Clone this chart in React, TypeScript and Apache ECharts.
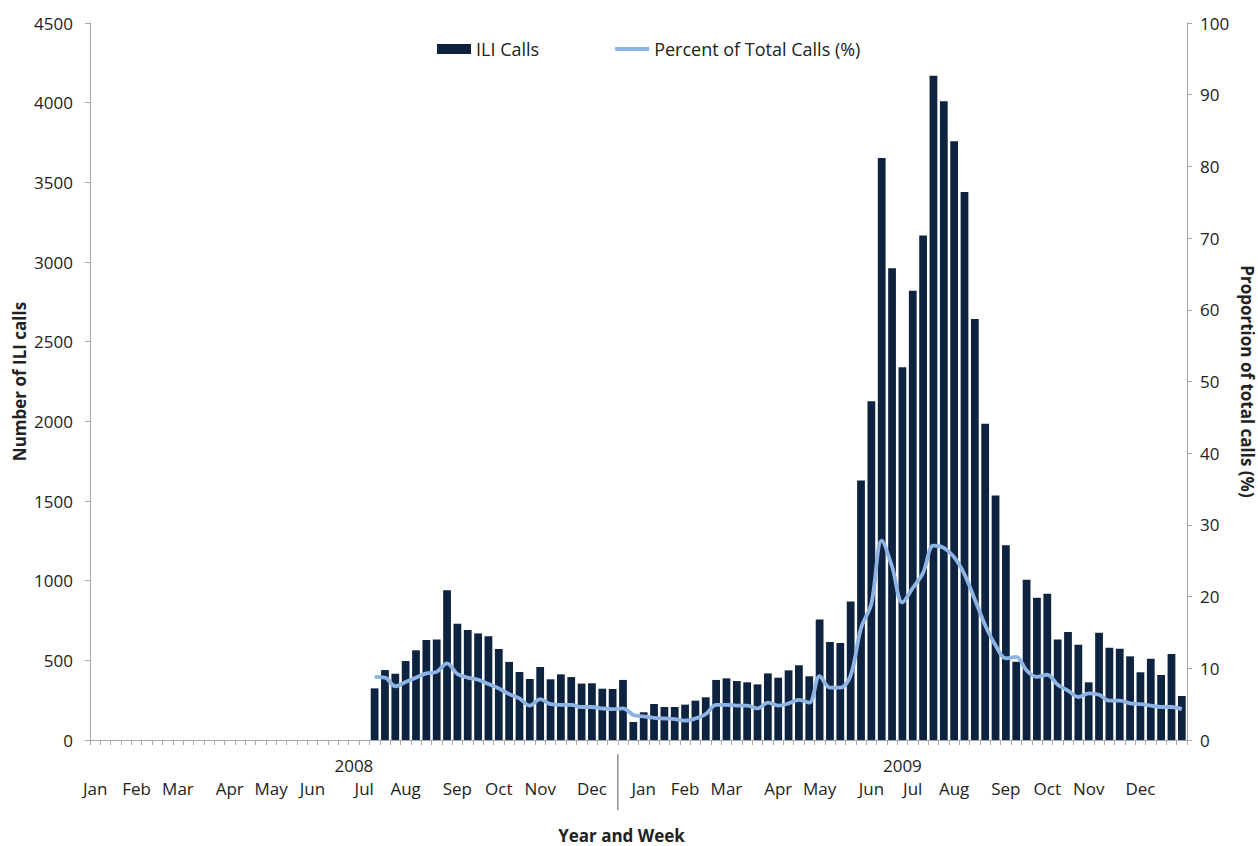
import React, { useEffect, useRef } from 'react';
import * as echarts from 'echarts';

// ---- Data ----
const years = ['2008', '2009'];
const weeksPerYear = [51, 55];
const monthNames = ['Jan', 'Feb', 'Mar', 'Apr', 'May', 'Jun', 'Jul', 'Aug', 'Sep', 'Oct', 'Nov', 'Dec'];
// week (within each year's group) on which each month label sits
const monthStartWeek2008 = [1, 5, 9, 14, 18, 22, 27, 31, 36, 40, 44, 49];
const monthStartWeek2009 = [3, 7, 11, 16, 20, 25, 29, 33, 38, 42, 46, 51];

const firstReportedWeek2008 = 28;
const iliCalls2008 = [324, 439, 416, 496, 563, 628, 630, 940, 730, 690, 669, 651, 571, 490, 427, 383, 458, 381, 412, 395, 354, 356, 322, 320];
const percent2008 = [8.8, 8.7, 7.5, 8.1, 8.7, 9.3, 9.5, 10.7, 9.2, 8.7, 8.4, 7.8, 7.2, 6.4, 5.8, 4.8, 5.7, 5.0, 4.9, 4.9, 4.6, 4.6, 4.4, 4.3];

const iliCalls2009 = [377, 113, 174, 226, 207, 207, 222, 247, 268, 377, 387, 370, 362, 349, 418, 391, 437, 469, 400, 757, 615, 609, 870, 1629, 2126, 3653, 2960, 2339, 2819, 3167, 4169, 4009, 3758, 3440, 2642, 1985, 1535, 1223, 491, 1006, 893, 918, 630, 678, 598, 362, 673, 579, 573, 525, 425, 510, 408, 540, 276];
const percent2009 = [4.4, 3.5, 3.3, 3.1, 3.0, 2.9, 2.7, 3.0, 3.6, 4.9, 4.9, 4.8, 4.8, 4.4, 5.2, 4.8, 5.1, 5.6, 5.2, 8.9, 7.3, 7.3, 9.0, 15.6, 19.0, 27.8, 24.2, 19.2, 21.2, 23.3, 27.1, 26.8, 25.5, 23.1, 19.6, 16.0, 13.2, 11.4, 11.6, 9.7, 8.8, 9.1, 7.7, 6.9, 6.0, 6.5, 6.3, 5.5, 5.5, 5.1, 5.0, 4.8, 4.6, 4.6, 4.3];

const leftTicks = { min: 0, max: 4500, interval: 500 };
const rightTicks = { min: 0, max: 100, interval: 10 };

// ---- Derived tables ----
const categories: string[] = [];
years.forEach((y, yi) => {
  for (let w = 1; w <= weeksPerYear[yi]; w++) categories.push(`${y}-W${w}`);
});
const monthLabel: Record<number, string> = {};
monthStartWeek2008.forEach((w, i) => { monthLabel[w - 1] = monthNames[i]; });
monthStartWeek2009.forEach((w, i) => { monthLabel[weeksPerYear[0] + w - 1] = monthNames[i]; });
const yearLabel: Record<number, string> = {};
let offset = 0;
years.forEach((y, yi) => {
  yearLabel[offset + Math.floor((weeksPerYear[yi] - 1) / 2)] = y;
  offset += weeksPerYear[yi];
});

const lead = new Array(firstReportedWeek2008 - 1).fill(null);
const iliCalls = [...lead, ...iliCalls2008, ...iliCalls2009];
const percent = [...lead, ...percent2008, ...percent2009];

const FONT = '"Open Sans", Lato, sans-serif';
const TXT = '#222222';
const AX = '#a6a6a6';
const LINE = '#8eb4e3';

export default function App() {
  const ref = useRef<HTMLDivElement>(null);
  useEffect(() => {
    const chart = echarts.init(ref.current!, null, { renderer: 'svg' });
    const option: any = {
      animation: false,
      textStyle: { fontFamily: FONT, color: TXT },
      grid: { left: 90, right: 71, top: 23, bottom: 106, outerBoundsMode: 'none', containLabel: false },
      legend: {
        top: 40,
        left: 437,
        padding: 0,
        itemWidth: 34,
        itemHeight: 10,
        itemGap: 74,
        textStyle: { fontSize: 18, fontFamily: FONT, color: TXT },
        data: [
          { name: 'ILI Calls', icon: 'rect' },
          { name: 'Percent of Total Calls (%)', itemStyle: { opacity: 0 }, lineStyle: { width: 4, color: LINE } },
        ],
      },
      xAxis: [
        {
          type: 'category',
          data: categories,
          position: 'bottom',
          axisLine: { show: true, lineStyle: { color: AX, width: 1 } },
          axisTick: { show: true, interval: 0, length: 5, lineStyle: { color: AX } },
          axisLabel: {
            interval: 0,
            margin: 40,
            fontSize: 17,
            fontFamily: FONT,
            color: TXT,
            formatter: (_v: string, i: number) => monthLabel[i] || '',
          },
          name: 'Year and Week',
          nameLocation: 'middle',
          nameGap: 86,
          nameMoveOverlap: false,
          nameTextStyle: { fontSize: 17, lineHeight: 18, fontWeight: 'bold', fontFamily: FONT, color: TXT, padding: [0, 34, 0, 0] },
        },
        {
          type: 'category',
          data: categories,
          position: 'bottom',
          axisLine: { show: false },
          axisTick: { show: false },
          axisLabel: {
            interval: 0,
            margin: 17,
            fontSize: 17,
            fontFamily: FONT,
            color: TXT,
            formatter: (_v: string, i: number) => yearLabel[i] || '',
          },
        },
      ],
      yAxis: [
        {
          type: 'value',
          position: 'left',
          ...leftTicks,
          axisLine: { show: true, lineStyle: { color: AX } },
          axisTick: { show: true, length: 5, lineStyle: { color: AX } },
          splitLine: { show: false },
          axisLabel: { fontSize: 17, margin: 17, fontFamily: FONT, color: TXT, formatter: (v: number) => String(v) },
          name: 'Number of ILI calls',
          nameLocation: 'middle',
          nameRotate: 90,
          nameGap: 62,
          nameMoveOverlap: false,
          nameTextStyle: { fontSize: 17, lineHeight: 18, fontWeight: 'bold', fontFamily: FONT, color: TXT },
        },
        {
          type: 'value',
          position: 'right',
          ...rightTicks,
          axisLine: { show: true, lineStyle: { color: AX } },
          axisTick: { show: true, length: 5, lineStyle: { color: AX } },
          splitLine: { show: false },
          axisLabel: { fontSize: 17, margin: 13, fontFamily: FONT, color: TXT, formatter: (v: number) => String(v) },
          name: 'Proportion of total calls (%)',
          nameLocation: 'middle',
          nameRotate: -90,
          nameGap: 51,
          nameMoveOverlap: false,
          nameTextStyle: { fontSize: 17, lineHeight: 18, fontWeight: 'bold', fontFamily: FONT, color: TXT },
        },
      ],
      series: [
        {
          name: 'ILI Calls',
          type: 'bar',
          xAxisIndex: 0,
          yAxisIndex: 0,
          data: iliCalls,
          barCategoryGap: '25%',
          itemStyle: { color: '#0d2340' },
          silent: true,
        },
        {
          name: 'Percent of Total Calls (%)',
          type: 'line',
          xAxisIndex: 0,
          yAxisIndex: 1,
          data: percent,
          smooth: 0.35,
          symbol: 'none',
          lineStyle: { color: LINE, width: 3.8 },
          itemStyle: { color: LINE },
          silent: true,
          z: 3,
        },
      ],
    };
    chart.setOption(option);
    const xa = chart.convertToPixel({ xAxisIndex: 0 }, categories[weeksPerYear[0] - 1]) as number;
    const xb = chart.convertToPixel({ xAxisIndex: 0 }, categories[weeksPerYear[0]]) as number;
    const y0 = chart.convertToPixel({ yAxisIndex: 0 }, 0) as number;
    const xd = (xa + xb) / 2;
    chart.setOption({
      graphic: [
        {
          type: 'line',
          shape: { x1: xd, y1: y0 + 14, x2: xd, y2: y0 + 70 },
          style: { stroke: '#808080', lineWidth: 1.3 },
          silent: true,
        },
      ],
    });
    return () => chart.dispose();
  }, []);
  return (
    <div
      ref={ref}
      style={{ position: 'fixed', left: 0, top: 0, width: 1258, height: 846, background: '#ffffff' }}
    />
  );
}
